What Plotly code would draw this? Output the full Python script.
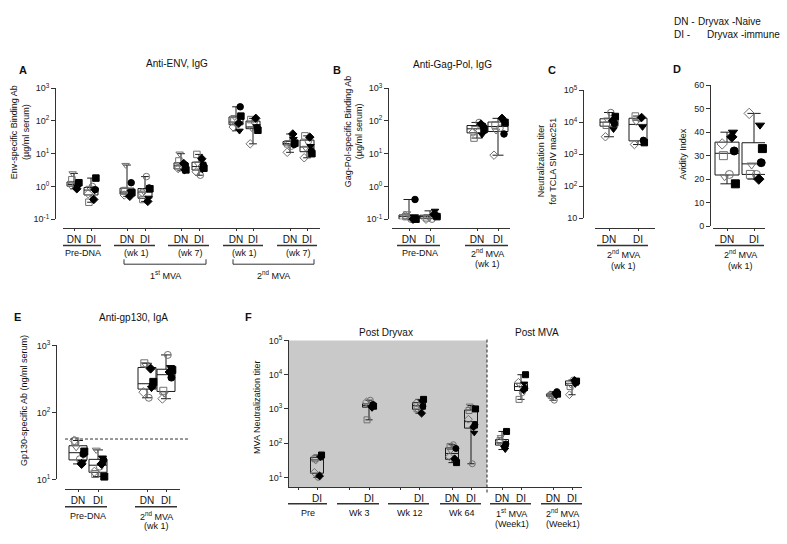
import numpy as np
import plotly.graph_objects as go

W, H = 787, 544
FONT = "Arial, 'Liberation Sans', 'DejaVu Sans', sans-serif"

# animal symbols (same order in every group)
SYMBOLS = ["square-open", "circle-open", "triangle-down-open", "diamond-open",
           "circle", "square", "triangle-down", "diamond"]
SYMBOL_COLORS = ["#707070"] * 4 + ["#000000"] * 4
JITTER = [-0.15, 0.1, -0.1, -0.2, 0.3, 0.35, 0.25, 0.2]

# ---------------- Panel A : Anti-ENV IgG (ug/ml) ----------------
A_LABELS = ["DN", "DI", "DN", "DI", "DN", "DI", "DN", "DI", "DN", "DI"]
A_PRE_DN = [1.6, 1.05, 2.5, 1.1, 1.2, 1.3, 0.95, 0.85]
A_PRE_DI = [0.33, 1.0, 0.9, 0.6, 0.8, 1.8, 0.75, 0.4]
A_M1W1_DN = [0.75, 0.6, 4.5, 0.55, 1.3, 0.65, 0.7, 0.5]
A_M1W1_DI = [0.4, 2.0, 0.7, 0.65, 0.9, 0.85, 0.45, 0.35]
A_M1W7_DN = [6.0, 4.0, 10.0, 3.5, 4.5, 3.2, 3.0, 5.0]
A_M1W7_DI = [9.5, 2.2, 5.0, 2.8, 4.5, 3.6, 3.3, 7.0]
A_M2W1_DN = [100, 80, 130, 65, 270, 140, 50, 85]
A_M2W1_DI = [110, 95, 60, 20, 62, 52, 68, 120]
A_M2W7_DN = [20, 17, 22, 11, 19, 21, 28, 40]
A_M2W7_DI = [35, 24, 15, 7.5, 12, 10, 17, 32]

# ---------------- Panel B : Anti-Gag-Pol IgG ----------------
B_LABELS = ["DN", "DI", "DN", "DI"]
B_PRE_DN = [0.12, 0.1, 0.15, 0.13, 0.4, 0.1, 0.12, 0.1]
B_PRE_DI = [0.11, 0.1, 0.12, 0.1, 0.13, 0.12, 0.18, 0.14]
B_M2_DN = [30, 90, 60, 45, 70, 55, 38, 80]
B_M2_DI = [75, 60, 50, 9, 40, 90, 100, 120]

# ---------------- Panel C : Neutralization TCLA SIV mac251 ----------------
C_LABELS = ["DN", "DI"]
C_DN = [8000, 20000, 12000, 3500, 9000, 15000, 6000, 11000]
C_DI = [15500, 13000, 10000, 2000, 2700, 2300, 7000, 14000]

# ---------------- Panel D : Avidity index ----------------
D_LABELS = ["DN", "DI"]
D_DN = [30, 22, 21, 35, 32, 18, 40, 38]
D_DI = [22, 22, 26, 48, 27, 33, 43, 20]

# ---------------- Panel E : Anti-gp130 IgA (ng/ml) ----------------
E_LABELS = ["DN", "DI", "DN", "DI"]
E_PRE_DN = [37, 20, 30, 38, 24, 26, 18, 17]
E_PRE_DI = [12, 15.5, 27.5, 13, 19.5, 11, 21, 17]
E_M2_DN = [540, 165, 520, 200, 250, 285, 230, 450]
E_M2_DI = [210, 720, 190, 160, 330, 430, 470, 400]
E_CUTOFF = 40

# ---------------- Panel F : MVA neutralization titer ----------------
F_TICK_LABELS = ["", "DI", "", "DI", "", "DI", "DN", "DI", "DN", "DI", "DN", "DI"]
F_PRE_DI = [35, 10, 30, 14, 40, 45, 38, 11]
F_WK3_DI = [480, 1800, 1300, 1600, 1350, 1200, 1050, 1150]
F_WK12_DI = [1000, 1300, 900, 1500, 1200, 1900, 1600, 750]
F_WK64_DN = [80, 90, 60, 40, 70, 27, 30, 35]
F_WK64_DI = [900, 25, 1250, 500, 350, 1000, 200, 300]
F_M1_DN = [120, 90, 150, 110, 95, 220, 65, 80]
F_M1_DI = [1900, 3000, 5000, 6000, 4000, 10000, 5500, 3600]
F_M2_DN = [2500, 1800, 2200, 2600, 3200, 2700, 2400, 2900]
F_M2_DI = [4500, 7000, 5000, 2600, 6000, 6500, 5200, 6800]

LOG_TICKS_A = [0.1, 1, 10, 100, 1000]
LOG_TEXT_A = ["10<sup>-1</sup>", "10<sup>0</sup>", "10<sup>1</sup>", "10<sup>2</sup>", "10<sup>3</sup>"]
LOG_TICKS_C = [10, 100, 1000, 10000, 100000]
LOG_TEXT_C = ["10", "10<sup>2</sup>", "10<sup>3</sup>", "10<sup>4</sup>", "10<sup>5</sup>"]
LIN_TICKS_D = [0, 10, 20, 30, 40, 50, 60]
LOG_TICKS_E = [10, 100, 1000]
LOG_TEXT_E = ["10<sup>1</sup>", "10<sup>2</sup>", "10<sup>3</sup>"]
LOG_TEXT_F = ["10<sup>1</sup>", "10<sup>2</sup>", "10<sup>3</sup>", "10<sup>4</sup>", "10<sup>5</sup>"]
FIRST_MVA = "1<sup>st</sup> MVA"
SECOND_MVA = "2<sup>nd</sup> MVA"

# ---------------- layout geometry (pixels) ----------------
A_POS = [74, 91, 127, 145, 181, 199, 236, 253, 290, 307]
PANELS = [
    dict(n=1, groups=[A_PRE_DN, A_PRE_DI, A_M1W1_DN, A_M1W1_DI, A_M1W7_DN, A_M1W7_DI,
                      A_M2W1_DN, A_M2W1_DI, A_M2W7_DN, A_M2W7_DI],
         pos=A_POS, tickpos=A_POS, ticktext=A_LABELS,
         xdom=(63, 320), ydom=(83, 217), yline=55, xline=226, ytype="log", yrange=[-1, 3],
         yticks=LOG_TICKS_A, ytext=LOG_TEXT_A, bw=14, ms=6.5),
    dict(n=2, groups=[B_PRE_DN, B_PRE_DI, B_M2_DN, B_M2_DI],
         pos=[409, 430, 477, 498], tickpos=[409, 430, 477, 498], ticktext=B_LABELS,
         xdom=(392, 510), ydom=(83, 217), yline=388, xline=226, ytype="log", yrange=[-1, 3],
         yticks=LOG_TICKS_A, ytext=LOG_TEXT_A, bw=20, ms=6.5),
    dict(n=3, groups=[C_DN, C_DI], pos=[609, 638], tickpos=[609, 638], ticktext=C_LABELS,
         xdom=(595, 655), ydom=(85, 216), yline=583, xline=226, ytype="log", yrange=[1, 5],
         yticks=LOG_TICKS_C, ytext=LOG_TEXT_C, bw=18, ms=6.5),
    dict(n=4, groups=[D_DN, D_DI], pos=[727, 754], tickpos=[727, 754], ticktext=D_LABELS,
         xdom=(713, 765), ydom=(80, 224), yline=710, xline=226, ytype="linear", yrange=[0, 60],
         yticks=LIN_TICKS_D, ytext=[str(v) for v in LIN_TICKS_D], bw=24, ms=8),
    dict(n=5, groups=[E_PRE_DN, E_PRE_DI, E_M2_DN, E_M2_DI],
         pos=[78, 98, 147, 166], tickpos=[78, 98, 147, 166], ticktext=E_LABELS,
         xdom=(65, 180), ydom=(346, 483), yline=56, xline=493, ytype="log", yrange=[1, 3],
         yticks=LOG_TICKS_E, ytext=LOG_TEXT_E, bw=18, ms=7),
    dict(n=6, groups=[F_PRE_DI, F_WK3_DI, F_WK12_DI, F_WK64_DN, F_WK64_DI,
                      F_M1_DN, F_M1_DI, F_M2_DN, F_M2_DI],
         pos=[317, 369, 419, 452, 471, 502, 521, 553, 572],
         tickpos=[298, 317, 349, 369, 400, 419, 452, 471, 502, 521, 553, 572],
         ticktext=F_TICK_LABELS,
         xdom=(288, 582), ydom=(341, 491), yline=288, xline=491, ytype="log", yrange=[0.714, 5],
         yticks=LOG_TICKS_C, ytext=LOG_TEXT_F, bw=13, ms=6),
]

fig = go.Figure()
layout_axes = {}

for p in PANELS:
    n = p["n"]
    xa = "x" if n == 1 else f"x{n}"
    ya = "y" if n == 1 else f"y{n}"
    groups = p["groups"]
    q1 = [float(np.percentile(g, 25)) for g in groups]
    med = [float(np.percentile(g, 50)) for g in groups]
    q3 = [float(np.percentile(g, 75)) for g in groups]
    lo = [float(min(g)) for g in groups]
    hi = [float(max(g)) for g in groups]
    fig.add_trace(go.Box(x=p["pos"], q1=q1, median=med, q3=q3, lowerfence=lo, upperfence=hi,
                         width=p["bw"], boxpoints=False, whiskerwidth=0.55,
                         line=dict(color="#1a1a1a", width=1), fillcolor="rgba(0,0,0,0)",
                         xaxis=xa, yaxis=ya, showlegend=False, hoverinfo="skip"))
    xs, ys, sym, col = [], [], [], []
    for gi, g in enumerate(groups):
        for k, v in enumerate(g):
            xs.append(p["pos"][gi] + JITTER[k] * p["bw"])
            ys.append(v)
            sym.append(SYMBOLS[k])
            col.append(SYMBOL_COLORS[k])
    fig.add_trace(go.Scatter(x=xs, y=ys, mode="markers", xaxis=xa, yaxis=ya, showlegend=False,
                             cliponaxis=False, hoverinfo="skip",
                             marker=dict(symbol=sym, color=col, size=p["ms"],
                                         line=dict(color=col, width=1))))
    xkey = "xaxis" if n == 1 else f"xaxis{n}"
    ykey = "yaxis" if n == 1 else f"yaxis{n}"
    layout_axes[xkey] = dict(
        domain=[p["xdom"][0] / W, p["xdom"][1] / W], range=list(p["xdom"]),
        anchor="free", position=1 - p["xline"] / H,
        showline=True, linecolor="#333", linewidth=1, ticks="outside", ticklen=2,
        tickcolor="#333", tickvals=p["tickpos"], ticktext=p["ticktext"],
        tickfont=dict(size=10, color="#111", family=FONT),
        showgrid=False, zeroline=False, fixedrange=True)
    layout_axes[ykey] = dict(
        domain=[1 - p["ydom"][1] / H, 1 - p["ydom"][0] / H], type=p["ytype"], range=p["yrange"],
        anchor="free", position=p["yline"] / W,
        showline=True, linecolor="#333", linewidth=1, ticks="outside", ticklen=4,
        tickcolor="#333", tickvals=p["yticks"], ticktext=p["ytext"],
        tickfont=dict(size=9, color="#222", family=FONT),
        showgrid=False, zeroline=False, fixedrange=True)

shapes = []
annotations = []


def ann(text, x, y, xref="paper", size=9, bold=False, angle=0, xanchor="center", color="#111"):
    xx = x / W if xref == "paper" else x
    annotations.append(dict(text=f"<b>{text}</b>" if bold else text, x=xx, y=1 - y / H,
                            xref=xref, yref="paper", showarrow=False, textangle=angle,
                            xanchor=xanchor, yanchor="middle",
                            font=dict(size=size, family=FONT, color=color)))


def underline(xref, x0, x1, y):
    shapes.append(dict(type="line", xref=xref, yref="paper", x0=x0, x1=x1,
                       y0=1 - y / H, y1=1 - y / H, line=dict(color="#333", width=1.5)))


def bracket(xref, x0, x1, y, h=5):
    shapes.append(dict(type="path", xref=xref, yref="paper",
                       path=f"M {x0},{1 - (y - h) / H} L {x0},{1 - y / H} L {x1},{1 - y / H} L {x1},{1 - (y - h) / H}",
                       line=dict(color="#333", width=1)))


# ----- Panel A decorations -----
pa = PANELS[0]["pos"]
for gi, lab in enumerate(["Pre-DNA", "(wk 1)", "(wk 7)", "(wk 1)", "(wk 7)"]):
    dn, di = pa[2 * gi], pa[2 * gi + 1]
    underline("x", dn - 13, di + 10, 244)
    ann(lab, (dn + di) / 2, 252, xref="x")
bracket("x", pa[2] - 3, pa[5] + 7, 263)
ann(FIRST_MVA, (pa[2] + pa[5]) / 2 + 2, 274, xref="x")
bracket("x", pa[6] - 3, pa[9] + 7, 263)
ann(SECOND_MVA, (pa[6] + pa[9]) / 2 + 2, 274, xref="x")
ann("Anti-ENV, IgG", 177, 58, size=10)
ann("A", 23, 64, size=11, bold=True)
ann("Env-specific Binding Ab<br>(µg/ml serum)", 20, 128, angle=-90)

# ----- Panel B -----
pb = PANELS[1]["pos"]
underline("x2", pb[0] - 12, pb[1] + 10, 244)
underline("x2", pb[2] - 12, pb[3] + 10, 244)
ann("Pre-DNA", (pb[0] + pb[1]) / 2, 252, xref="x2")
ann(SECOND_MVA, (pb[2] + pb[3]) / 2, 252, xref="x2")
ann("(wk 1)", (pb[2] + pb[3]) / 2, 263, xref="x2")
ann("Anti-Gag-Pol, IgG", 452, 59, size=10)
ann("B", 337, 64, size=11, bold=True)
ann("Gag-Pol-specific Binding Ab<br>(µg/ml serum)", 354, 127, angle=-90)

# ----- Panel C -----
pc = PANELS[2]["pos"]
underline("x3", pc[0] - 12, pc[1] + 10, 244)
ann(SECOND_MVA, (pc[0] + pc[1]) / 2, 253, xref="x3")
ann("(wk 1)", (pc[0] + pc[1]) / 2, 265, xref="x3")
ann("C", 552, 64, size=11, bold=True)
ann("Neutralization titer<br>for TCLA SIV mac251", 547, 158, angle=-90)

# ----- Panel D -----
pd_ = PANELS[3]["pos"]
underline("x4", pd_[0] - 12, pd_[1] + 10, 244)
ann(SECOND_MVA, (pd_[0] + pd_[1]) / 2, 253, xref="x4")
ann("(wk 1)", (pd_[0] + pd_[1]) / 2, 265, xref="x4")
ann("D", 677, 63, size=11, bold=True)
ann("Avidity Index", 683, 151, angle=-90)

# legend text
ann("DN -", 672, 15, xanchor="left", size=10)
ann("Dryvax -Naive", 696, 15, xanchor="left", size=10)
ann("DI -", 672, 28, xanchor="left", size=10)
ann("Dryvax -immune", 705, 28, xanchor="left", size=10)

# ----- Panel E -----
pe = PANELS[4]["pos"]
underline("x5", pe[0] - 13, pe[1] + 9, 511)
underline("x5", pe[2] - 12, pe[3] + 11, 511)
ann("Pre-DNA", (pe[0] + pe[1]) / 2, 520, xref="x5")
ann(SECOND_MVA, (pe[2] + pe[3]) / 2, 520, xref="x5")
ann("(wk 1)", (pe[2] + pe[3]) / 2, 531, xref="x5")
shapes.append(dict(type="line", xref="paper", yref="y5", x0=65 / W, x1=188 / W,
                   y0=E_CUTOFF, y1=E_CUTOFF, line=dict(color="#333", width=1, dash="3px,2px")))
ann("Anti-gp130, IgA", 133, 317, size=10)
ann("E", 17, 317, size=11, bold=True)
ann("Gp130-specific Ab (ng/ml serum)", 24, 403, angle=-90)

# ----- Panel F -----
pt = PANELS[5]["tickpos"]
shapes.append(dict(type="rect", xref="x6", yref="y6 domain", x0=288, x1=487, y0=0, y1=1,
                   fillcolor="#c9c9c9", line=dict(width=0), layer="below"))
shapes.append(dict(type="line", xref="x6", yref="paper", x0=487, x1=487,
                   y0=1 - 340 / H, y1=1 - 497 / H, line=dict(color="#222", width=1, dash="3px,2px")))
for gi, lab in enumerate(["Pre", "Wk 3", "Wk 12", "Wk 64", FIRST_MVA, SECOND_MVA]):
    dn, di = pt[2 * gi], pt[2 * gi + 1]
    underline("x6", dn - 12, di + 10, 508)
    ann(lab, (dn + di) / 2, 517, xref="x6")
    if gi >= 4:
        ann("(Week1)", (dn + di) / 2, 529, xref="x6")
ann("Post Dryvax", 386, 333, size=10)
ann("Post MVA", 537, 333, size=10)
ann("F", 248, 317, size=11, bold=True)
ann("MVA Neutralization titer", 257, 410, angle=-90)

fig.update_layout(
    width=W, height=H, margin=dict(l=0, r=0, t=0, b=0),
    paper_bgcolor="white", plot_bgcolor="rgba(0,0,0,0)",
    font=dict(family=FONT, size=10, color="#111"),
    showlegend=False, shapes=shapes, annotations=annotations,
    **layout_axes)

fig.write_html("out.html", config={"displayModeBar": False},
               post_script="document.body.style.margin='0px';")
